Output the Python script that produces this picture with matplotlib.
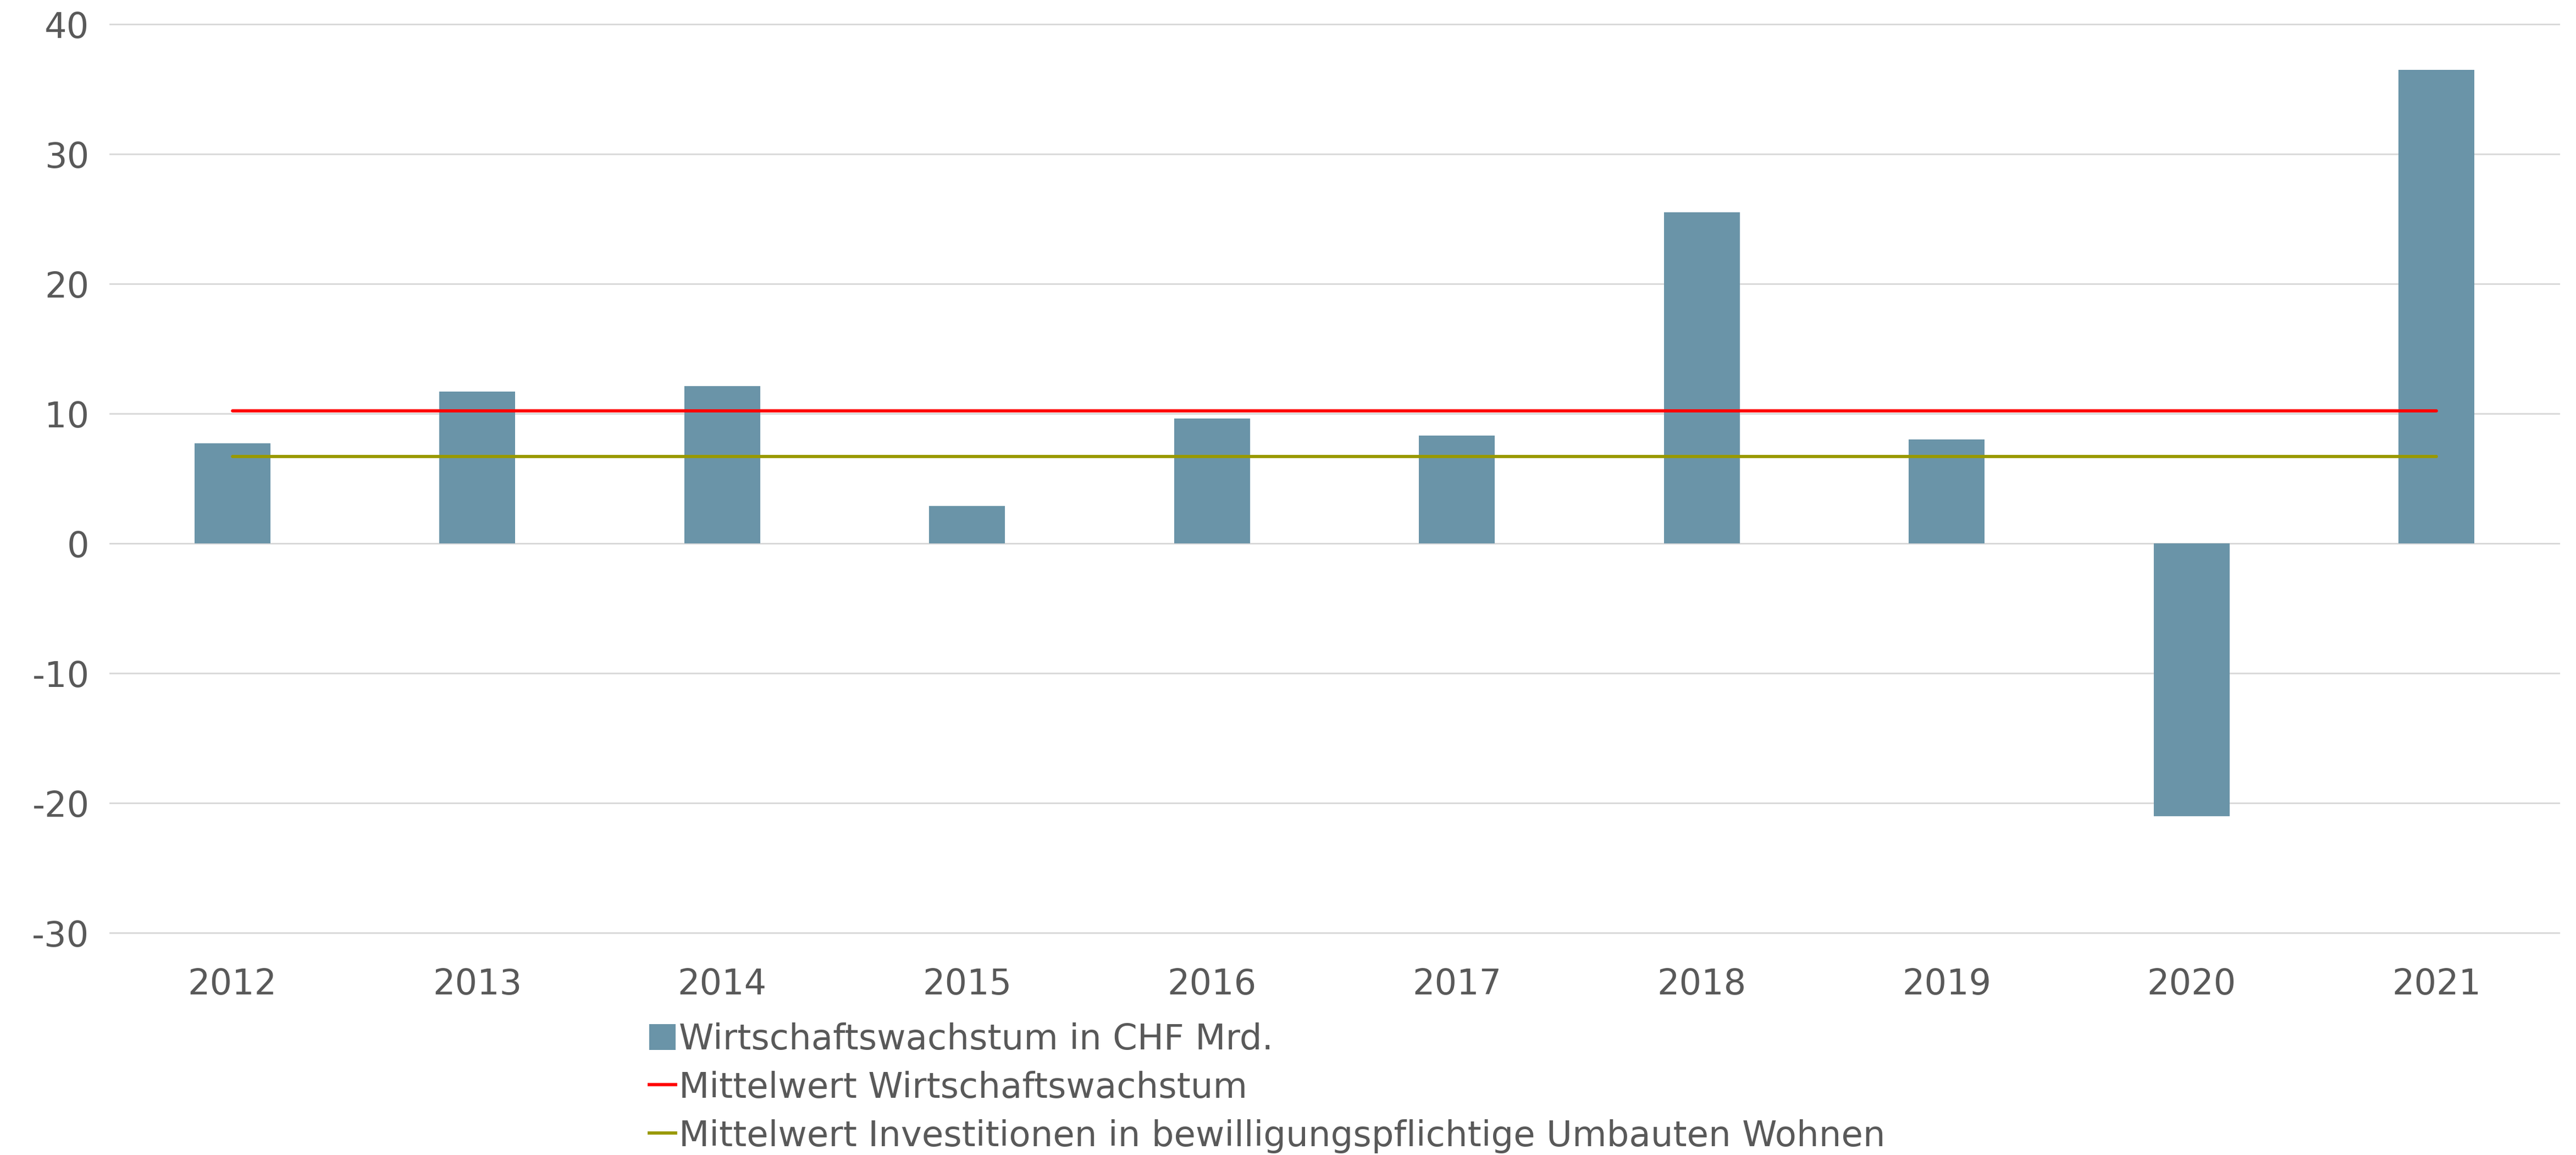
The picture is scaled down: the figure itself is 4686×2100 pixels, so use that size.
import numpy as np
import matplotlib.pyplot as plt
from matplotlib.patches import Patch
from matplotlib.lines import Line2D

plt.rcParams['font.family'] = ['DejaVu Sans']
plt.rcParams['axes.unicode_minus'] = False

# Data
years = ["2012", "2013", "2014", "2015", "2016", "2017", "2018", "2019", "2020", "2021"]
growth = [7.7, 11.7, 12.1, 2.9, 9.6, 8.3, 25.5, 8.0, -21.0, 36.5]
mean_growth = 10.2
mean_invest = 6.7

bar_color = "#6a94a8"
text_color = "#595959"
grid_color = "#d9d9d9"

fig = plt.figure(figsize=(15.62, 7.003), dpi=300)
ax = fig.add_axes([0.0427, 0.1923, 0.9507, 0.7863])

x = np.arange(len(years))
ax.bar(x, growth, width=0.31, color=bar_color, zorder=2)
ax.plot([x[0], x[-1]], [mean_growth, mean_growth], color="#ff0000", lw=1.4,
        solid_capstyle="round", zorder=3)
ax.plot([x[0], x[-1]], [mean_invest, mean_invest], color="#999900", lw=1.4,
        solid_capstyle="round", zorder=3)

ax.set_xlim(-0.5, len(years) - 0.5)
ax.set_ylim(-30, 40)
ax.set_yticks(np.arange(-30, 41, 10))
ax.set_xticks(x)
ax.set_xticklabels(years)
ax.yaxis.grid(True, color=grid_color, lw=0.7, zorder=0)
for gl in ax.get_ygridlines():
    gl.set_clip_on(False)
ax.set_axisbelow(True)
for s in ax.spines.values():
    s.set_visible(False)
ax.tick_params(axis="both", length=0, labelsize=15.3, colors=text_color)
ax.tick_params(axis="y", pad=9)
ax.tick_params(axis="x", pad=15)

handles = [
    Patch(facecolor=bar_color, edgecolor="none"),
    Line2D([0], [0], color="#ff0000", lw=1.4),
    Line2D([0], [0], color="#999900", lw=1.4),
]
labels = [
    "Wirtschaftswachstum in CHF Mrd.",
    "Mittelwert Wirtschaftswachstum",
    "Mittelwert Investitionen in bewilligungspflichtige Umbauten Wohnen",
]
leg = fig.legend(handles, labels, loc="upper left", bbox_to_anchor=(0.252, 0.115),
                 frameon=False, fontsize=15.4, handlelength=0.75, handleheight=0.75,
                 handletextpad=0.1, labelspacing=0.4, borderpad=0, borderaxespad=0)
for t in leg.get_texts():
    t.set_color(text_color)

fig.savefig("out.png", dpi=300)
